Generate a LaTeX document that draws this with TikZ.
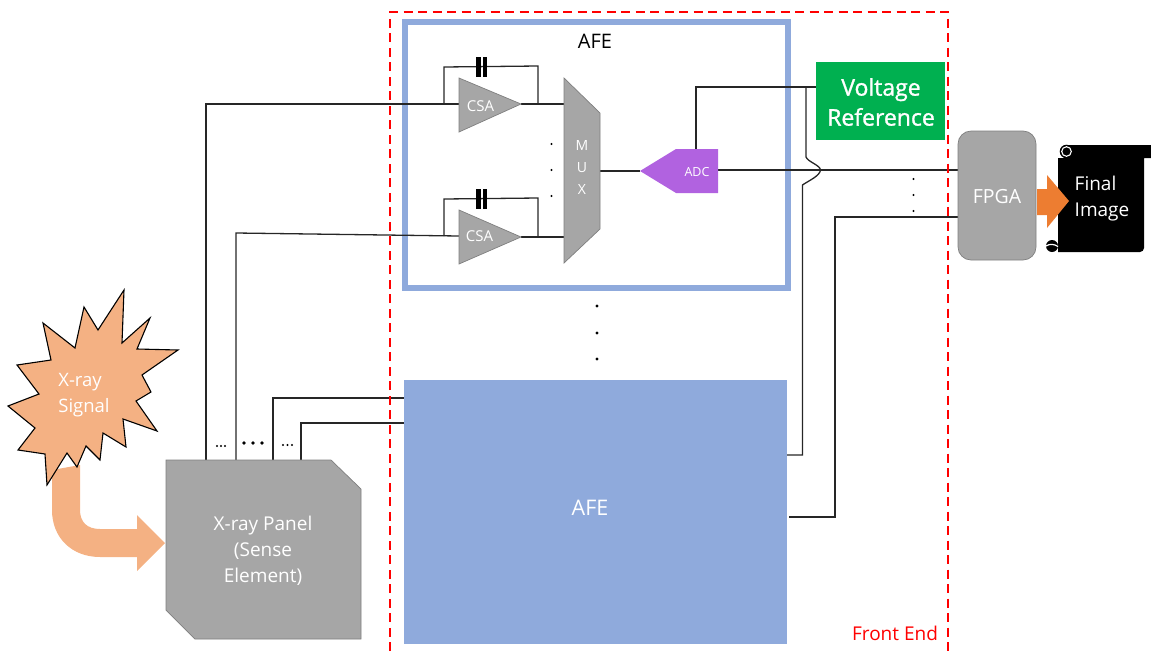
\documentclass[tikz,border=0pt]{standalone}
\usepackage{fontspec}
\setmainfont{Open Sans}
\newfontfamily\fakeboldfont[FakeBold=1.2]{Open Sans}
\definecolor{afeblue}{HTML}{8FAADC}
\definecolor{panelgray}{HTML}{A6A6A6}
\definecolor{edgegray}{HTML}{7F7F7F}
\definecolor{xorange}{HTML}{F4B183}
\definecolor{oarrow}{HTML}{ED7D31}
\definecolor{vgreen}{HTML}{00B050}
\definecolor{adcpurple}{HTML}{B162E0}
\tikzset{
  wire/.style={draw=black!85,line width=1.3pt,line join=miter},
  grayshape/.style={fill=panelgray,draw=edgegray,line width=0.7pt},
  whitetxt/.style={text=white,inner sep=0pt,align=center},
  dotmark/.style={circle,fill=black,inner sep=0pt,minimum size=2.4pt},
  capplate/.style={draw=black,line width=4.2pt},
}
\begin{document}
\begin{tikzpicture}[x=1pt,y=-1pt]
\useasboundingbox (0,0) rectangle (1151,651);
% coordinates
\coordinate (panelA) at (206,460); \coordinate (panelB) at (236,460);
\coordinate (panelC) at (273,460); \coordinate (panelD) at (301,460);
% AFE 1 frame
\node[draw=afeblue,line width=6pt,minimum width=383pt,minimum height=266pt,inner sep=0pt] (afeone) at (596,155) {};
\node[inner sep=0pt,font=\fontsize{20}{24}\selectfont] (afeonelabel) at (595,41) {AFE};
% wires first
\draw[wire] (panelA) -- (206,104) -- (459,104);
\draw[wire] (panelB) -- (236,233) -- (459,236);
\draw[wire] (444,104) -- (444,67) -- (538,66) -- (538,104);
\draw[wire] (444,236) -- (444,199) -- (538,198) -- (538,237);
\draw[wire] (panelC) -- (273,398) -- (404,398);
\draw[wire] (panelD) -- (301,423) -- (404,423);
\draw[wire] (521,104) -- (564,104);
\draw[wire] (521,237) -- (564,237);
\draw[wire] (600,171) -- (640,171);
\draw[wire] (718,170) -- (958,170);
\draw[wire] (696,149) -- (696,87) -- (816,87);
\draw[wire] (806,87) -- (806,157) .. controls (808,162) and (820,165) .. (820.5,170) .. controls (820,176) and (808,181) .. (802.5,185) -- (802.5,455) -- (787,455);
\draw[wire] (789,517) -- (835,517) -- (835,217) -- (958,217);
% capacitors
\draw[capplate] (478.5,57) -- (478.5,77); \draw[capplate] (485,57) -- (485,77);
\draw[capplate] (478.5,189) -- (478.5,209); \draw[capplate] (485,189) -- (485,209);
% CSA
\path[grayshape] (459,78) -- (459,132) -- (521,104) -- cycle;
\node[whitetxt,font=\fontsize{15}{17}\selectfont] (csaone) at (480.5,106) {CSA};
\path[grayshape] (459,210) -- (459,264) -- (521,237) -- cycle;
\node[whitetxt,font=\fontsize{15}{17}\selectfont] (csatwo) at (479.5,236) {CSA};
% MUX
\path[grayshape] (564,78) -- (600,113) -- (600,229) -- (564,263) -- cycle;
\node[whitetxt,font=\fontsize{14}{22}\selectfont] (mux) at (582,167) {M\\U\\X};
% ADC
\path[fill=adcpurple] (640,171) -- (676,149) -- (718,149) -- (718,193) -- (676,193) -- cycle;
\node[whitetxt,font=\fontsize{12.5}{14}\selectfont] (adc) at (697,172) {ADC};
% dots
\foreach \y in {144,170,196} \node[dotmark,minimum size=2.2pt] at (551.5,\y) {};
\foreach \y in {306,333,359} \node[dotmark,minimum size=3.4pt] at (597,\y) {};
\foreach \y in {179,195,211} \node[dotmark,minimum size=2.4pt] at (913.5,\y) {};
\foreach \x in {217,221,225} \node[dotmark,minimum size=2.2pt] at (\x,446) {};
\foreach \x in {244,253,262} \node[dotmark,minimum size=3.8pt] at (\x,443) {};
\foreach \x in {283,287.5,292} \node[dotmark,minimum size=2.2pt] at (\x,445) {};
% AFE 2
\node[fill=afeblue,minimum width=383pt,minimum height=264pt,inner sep=0pt] (afetwo) at (595.5,512) {};
\node[whitetxt,font=\fontsize{21.5}{24}\selectfont] (afetwolabel) at (590,508) {AFE};
% Voltage ref
\node[fill=vgreen,minimum width=129pt,minimum height=78pt,inner sep=0pt] (vref) at (880.5,101) {};
\node[whitetxt,font=\fakeboldfont\fontsize{23}{30}\selectfont] (vreflabel) at (881,102) {Voltage\\Reference};
% Front end frame
\draw[red,line width=2pt,dash pattern=on 9pt off 5.5pt] (390,651) -- (390,12) -- (948,12) -- (948,651);
\node[inner sep=0pt,text=red,font=\fontsize{19}{22}\selectfont] (felabel) at (895,633) {Front End};
% FPGA
\node[grayshape,rounded corners=13pt,minimum width=78pt,minimum height=129pt,inner sep=0pt] (fpga) at (997,195.5) {};
\node[whitetxt,font=\fontsize{19.5}{22}\selectfont] (fpgalabel) at (997,197) {FPGA};
% scroll
\path[fill=black] (1058,158) -- (1066,158) -- (1066,145) -- (1151,145) -- (1151,158) -- (1144,158) -- (1144,248) arc[start angle=0,end angle=90,radius=4] -- (1058,252) -- cycle;
\path[fill=black] (1066.5,151.5) circle[radius=6.8];
\draw[white,line width=1.1pt] (1066.5,151.5) circle[radius=4.8];
\path[fill=black] (1052,246) circle[radius=6];
\draw[white,line width=1.2pt] (1046,246) .. controls (1050,243.5) and (1054,244) .. (1058,246.5);
% arrow to image
\path[fill=oarrow] (1037,189) -- (1047,189) -- (1047,175) -- (1069,201) -- (1047,228) -- (1047,215) -- (1037,215) -- cycle;
\node[whitetxt,font=\fontsize{19}{26}\selectfont,align=left] (imglabel) at (1102,199) {Final\\Image};
% X-ray panel
\path[grayshape] (166,460) -- (331,460) -- (361,489) -- (361,639) -- (195,639) -- (166,610) -- cycle;
\node[whitetxt,font=\fontsize{19}{26}\selectfont] (panellabel) at (263,551) {X-ray Panel\\(Sense\\Element)};
% curved arrow
\path[fill=xorange] (52,470) -- (52,510) .. controls (52,538) and (72,557) .. (100,557) -- (137,557) -- (137,571) -- (165,543) -- (137,515) -- (137,529) -- (100,529) .. controls (87,529) and (80,522) .. (80,510) -- (80,465) -- cycle;
% burst
\path[fill=xorange,draw=black,line width=1.1pt,line join=miter] (124,290) -- (122,343) -- (150,318) -- (137,349) -- (178,350) -- (142,375) -- (151,392) -- (136,401) -- (157,431) -- (123,419) -- (126,447) -- (103,433) -- (100,460) -- (86,446) -- (77,467) -- (67,453) -- (47,485) -- (45,454) -- (18,450) -- (35,428) -- (8,406) -- (39,394) -- (17,365) -- (51,360) -- (43,323) -- (75,348) -- (84,307) -- (98,330) -- cycle;
\node[whitetxt,font=\fontsize{18.5}{26}\selectfont,align=left] (xlabel) at (84,395) {X-ray\\Signal};
\end{tikzpicture}
\end{document}
